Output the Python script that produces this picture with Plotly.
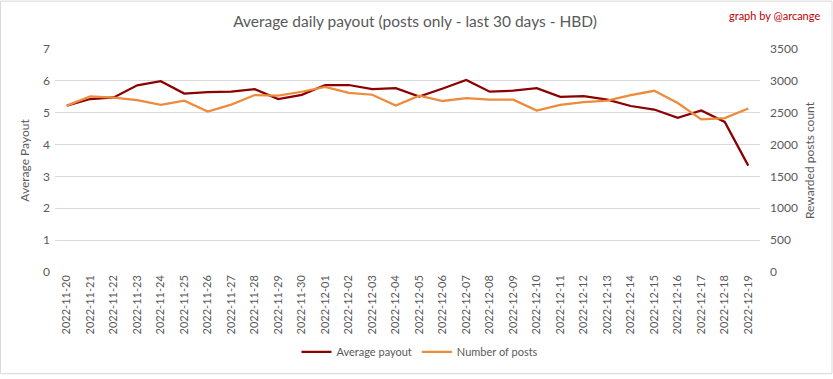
import plotly.graph_objects as go

dates = ["2022-11-20", "2022-11-21", "2022-11-22", "2022-11-23", "2022-11-24", "2022-11-25",
         "2022-11-26", "2022-11-27", "2022-11-28", "2022-11-29", "2022-11-30", "2022-12-01",
         "2022-12-02", "2022-12-03", "2022-12-04", "2022-12-05", "2022-12-06", "2022-12-07",
         "2022-12-08", "2022-12-09", "2022-12-10", "2022-12-11", "2022-12-12", "2022-12-13",
         "2022-12-14", "2022-12-15", "2022-12-16", "2022-12-17", "2022-12-18", "2022-12-19"]

avg_payout = [5.22, 5.43, 5.48, 5.86, 5.99, 5.60, 5.65, 5.66, 5.74, 5.43,
              5.56, 5.87, 5.87, 5.74, 5.77, 5.51, 5.76, 6.03, 5.66, 5.69,
              5.77, 5.50, 5.52, 5.41, 5.21, 5.10, 4.84, 5.07, 4.71, 3.34]

num_posts = [2611, 2756, 2735, 2699, 2622, 2689, 2518, 2627, 2777, 2767,
             2829, 2906, 2813, 2782, 2611, 2767, 2684, 2730, 2704, 2704,
             2534, 2622, 2668, 2689, 2777, 2844, 2653, 2394, 2415, 2565]

FONT = "Lato"
GRAY = "#595959"

fig = go.Figure()
fig.add_trace(go.Scatter(x=dates, y=avg_payout, mode="lines", name="Average payout",
                         line=dict(color="#8B0000", width=2.25)))
fig.add_trace(go.Scatter(x=dates, y=num_posts, mode="lines", name="Number of posts",
                         line=dict(color="#EE8A3C", width=2.25), yaxis="y2"))

fig.update_layout(
    width=833, height=379,
    margin=dict(l=55, r=73, t=49, b=104),
    paper_bgcolor="white", plot_bgcolor="white",
    font=dict(family=FONT, color=GRAY, size=11),
    title=dict(text="Average daily payout (posts only - last 30 days - HBD)",
               x=(415 / 833), xanchor="center", y=1 - 22 / 379, yanchor="middle",
               yref="container", xref="container",
               font=dict(family=FONT, size=15.5, color=GRAY)),
    xaxis=dict(type="category", range=[-0.5, len(dates) - 0.5], tickangle=-90,
               showgrid=False, showline=False, ticks="", zeroline=False,
               tickfont=dict(size=11, color=GRAY)),
    yaxis=dict(range=[0, 7], dtick=1, showgrid=True, gridcolor="#D9D9D9", gridwidth=1,
               zeroline=False, showline=False, ticks="", ticklabelstandoff=4,
               title=dict(text="Average Payout", font=dict(size=12, color=GRAY), standoff=10),
               tickfont=dict(size=12, color=GRAY)),
    yaxis2=dict(range=[0, 3500], dtick=500, overlaying="y", side="right", showgrid=False,
                zeroline=False, showline=False, ticks="", ticklabelstandoff=9,
                title=dict(text="Rewarded posts count", font=dict(size=12, color=GRAY), standoff=8),
                tickfont=dict(size=12, color=GRAY)),
    legend=dict(orientation="h", x=(420 - 55) / 705, xanchor="center",
                y=(275 - 356) / 226, yanchor="middle",
                font=dict(size=11, color=GRAY), itemwidth=30),
    showlegend=True,
)

fig.add_annotation(text="graph by @arcange", xref="paper", yref="paper",
                   x=(822 - 55) / 705, xanchor="right", y=1 + (49 - 15) / 226, yanchor="middle",
                   showarrow=False, font=dict(family=FONT, size=11, color="#C00000"))

fig.add_shape(type="rect", xref="paper", yref="paper",
              x0=-54.5 / 705, x1=1 + 72 / 705, y0=-103 / 226, y1=1 + 48.5 / 226,
              line=dict(color="#D9D9D9", width=1), fillcolor="rgba(0,0,0,0)", layer="below")

fig.write_html("out.html", config={"displayModeBar": False},
               post_script="document.body.style.margin='0';document.body.style.overflow='hidden';")
